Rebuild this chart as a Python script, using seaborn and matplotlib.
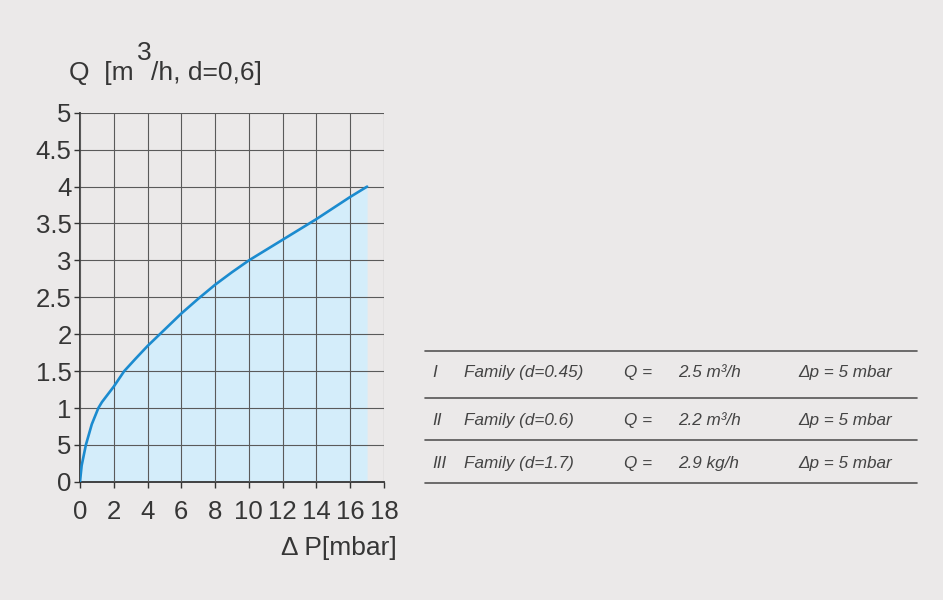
import numpy as np
import pandas as pd
import matplotlib
matplotlib.use("Agg")
import matplotlib.pyplot as plt
from matplotlib.lines import Line2D
import seaborn as sns

# Data
dp_mbar = [0, 0.1, 0.35, 0.7, 1.09, 1.3, 1.6, 2.0, 2.62, 3.3, 4.0, 5.0, 6, 7, 8, 9, 10,
           11, 12, 13, 14, 15, 16, 17]
q_m3h = [0, 0.22, 0.5, 0.78, 1.0, 1.08, 1.17, 1.29, 1.5, 1.67, 1.84, 2.06, 2.28, 2.48, 2.67,
         2.84, 3.0, 3.14, 3.28, 3.42, 3.56, 3.71, 3.86, 4.0]

x_ticks = list(range(0, 19, 2))
y_ticks = [0, 0.5, 1, 1.5, 2, 2.5, 3, 3.5, 4, 4.5, 5]
y_tick_labels = ["0", "5", "1", "1.5", "2", "2.5", "3", "3.5", "4", "4.5", "5"]

# Table on the right
fam_num = ["I", "II", "III"]
fam_name = ["Family (d=0.45)", "Family (d=0.6)", "Family (d=1.7)"]
fam_q = ["2.5 m³/h", "2.2 m³/h", "2.9 kg/h"]
fam_dp = ["Δp = 5 mbar", "Δp = 5 mbar", "Δp = 5 mbar"]

df = pd.DataFrame({"dp": dp_mbar, "q": q_m3h})

bg = "#ebe9e9"
txt = "#363636"
sns.set_theme(style="whitegrid")
plt.rcParams["font.family"] = ["Liberation Sans", "DejaVu Sans"]

fig = plt.figure(figsize=(9.43, 6.0), dpi=100, facecolor=bg)
ax = fig.add_axes([0.0848, 0.197, 0.3224, 0.615])
ax.set_facecolor(bg)

ax.fill_between(df["dp"], df["q"], 0, color="#d4edfa", zorder=1, lw=0)
sns.lineplot(data=df, x="dp", y="q", ax=ax, color="#1b8bcf", lw=1.9, zorder=3)

ax.set_xlim(0, 18)
ax.set_ylim(0, 5)
ax.set_xticks(x_ticks)
ax.set_yticks(y_ticks)
ax.set_yticklabels(y_tick_labels)
ax.grid(True, color="#5a5a5a", lw=0.8, zorder=2)
ax.set_axisbelow(False)
for s in ["top", "right"]:
    ax.spines[s].set_visible(False)
for s in ["left", "bottom"]:
    ax.spines[s].set_color("#333333")
    ax.spines[s].set_linewidth(1.3)
ax.tick_params(axis="both", which="both", length=4, width=1, color="#333333",
               labelsize=18.5, labelcolor=txt, direction="out",
               left=True, bottom=True)
ax.tick_params(axis="x", pad=9)
ax.tick_params(axis="y", pad=2)
ax.set_xlabel("")
ax.set_ylabel("")

# y axis title with a full-size raised "3"
fig.canvas.draw()
rend = fig.canvas.get_renderer()
base_y = 1 - 80 / 600
t1 = fig.text(69 / 943, base_y, "Q  [m", fontsize=19, color=txt, ha="left", va="baseline")
x_next = t1.get_window_extent(rend).x1 / fig.bbox.width
t2 = fig.text(x_next + 3 / 943, base_y + 20 / 600, "3", fontsize=19, color=txt,
              ha="left", va="baseline")
x_next = t2.get_window_extent(rend).x1 / fig.bbox.width
fig.text(x_next, base_y, "/h, d=0,6]", fontsize=19, color=txt, ha="left", va="baseline")

fig.text(397 / 943, 1 - 548 / 600, "Δ P[mbar]", fontsize=19, color=txt,
         ha="right", va="center")

# table lines
for ypx in [351, 398, 440, 483]:
    fig.add_artist(Line2D([425 / 943, 917 / 943], [1 - ypx / 600] * 2,
                          color="#555555", lw=1.2))
row_y = [377, 425, 468]
for i in range(3):
    yy = 1 - row_y[i] / 600
    kw = dict(fontsize=12.3, color="#444444", style="italic", va="baseline")
    fig.text(432 / 943, yy, fam_num[i], **kw)
    fig.text(464 / 943, yy, fam_name[i], **kw)
    fig.text(624 / 943, yy, "Q =", **kw)
    fig.text(678 / 943, yy, fam_q[i], **kw)
    fig.text(798 / 943, yy, fam_dp[i], **kw)

fig.savefig("out.png", dpi=100, facecolor=bg)
